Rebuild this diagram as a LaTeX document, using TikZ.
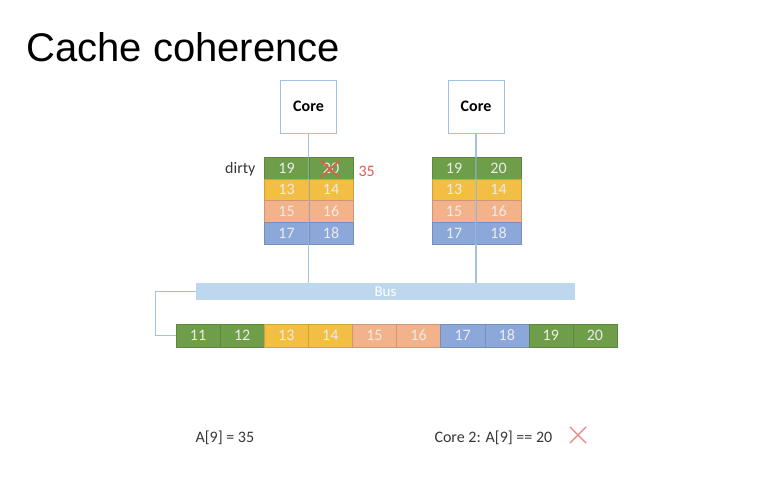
\documentclass[tikz,border=0pt]{standalone}
\usepackage{fontspec}
\setmainfont{Carlito}
\newfontfamily\titlefont{Liberation Sans}
\usetikzlibrary{shapes.misc}
\definecolor{cgreen}{RGB}{110,158,74}
\definecolor{cyellow}{RGB}{243,190,68}
\definecolor{cpeach}{RGB}{242,178,138}
\definecolor{cblue}{RGB}{140,168,218}
\definecolor{lineblue}{RGB}{157,195,230}
\definecolor{busblue}{RGB}{189,215,238}
\definecolor{xred}{RGB}{226,90,80}
\definecolor{txtgray}{RGB}{55,55,55}
\newcommand{\sz}[1]{\fontsize{#1}{#1}\selectfont}
\newcommand{\cell}[4]{\node[cell,fill=#3,draw=#3!85!black] (#1) at (#2) {#4}}

\begin{document}
\begin{tikzpicture}[x=1pt,y=-1pt,
	cell/.style={minimum width=44.5pt,minimum height=21.75pt,inner sep=0pt,
		text=white!92!black,font=\sz{16},line width=0.4pt},
	mem/.style={cell,minimum width=44.1pt,minimum height=23pt},
	corebox/.style={draw=lineblue,fill=white,line width=1pt,minimum width=56pt,
		minimum height=53pt,font=\sz{16}\bfseries},
	wire/.style={draw=lineblue,line width=1.2pt}]
	\useasboundingbox (0,0) rectangle (773,493);
	\node[anchor=base west,font=\titlefont\sz{40}] (title) at (23,61) {Cache coherence};
	% cores
	\node[corebox] (core1) at (308.5,106.5) {Core};
	\node[corebox] (core2) at (476,106.5) {Core};
	% cache of core 1
	\node[minimum width=89pt,minimum height=87pt,inner sep=0pt] (cache1) at (308.5,200.5) {};
	\cell{a19}{286.5,167.9}{cgreen}{19};
	\cell{a20}{331,167.9}{cgreen}{20};
	\cell{a13}{286.5,189.6}{cyellow}{13};
	\cell{a14}{331,189.6}{cyellow}{14};
	\cell{a15}{286.5,211.4}{cpeach}{15};
	\cell{a16}{331,211.4}{cpeach}{16};
	\cell{a17}{286.5,233.1}{cblue}{17};
	\cell{a18}{331,233.1}{cblue}{18};
	% cache of core 2
	\node[minimum width=89pt,minimum height=87pt,inner sep=0pt] (cache2) at (476,200.5) {};
	\cell{b19}{454,167.9}{cgreen}{19};
	\cell{b20}{498.5,167.9}{cgreen}{20};
	\cell{b13}{454,189.6}{cyellow}{13};
	\cell{b14}{498.5,189.6}{cyellow}{14};
	\cell{b15}{454,211.4}{cpeach}{15};
	\cell{b16}{498.5,211.4}{cpeach}{16};
	\cell{b17}{454,233.1}{cblue}{17};
	\cell{b18}{498.5,233.1}{cblue}{18};
	% bus
	\node[fill=busblue,minimum width=379pt,minimum height=17pt,inner sep=0pt,
		text=white,font=\sz{15}] (bus) at (385.5,291.5) {Bus};
	% memory
	\node[mem,fill=cgreen,draw=cgreen!85!black] (m11) at (198.05,335.5) {11};
	\node[mem,fill=cgreen,draw=cgreen!85!black] (m12) at (242.15,335.5) {12};
	\node[mem,fill=cyellow,draw=cyellow!85!black] (m13) at (286.25,335.5) {13};
	\node[mem,fill=cyellow,draw=cyellow!85!black] (m14) at (330.35,335.5) {14};
	\node[mem,fill=cpeach,draw=cpeach!85!black] (m15) at (374.45,335.5) {15};
	\node[mem,fill=cpeach,draw=cpeach!85!black] (m16) at (418.55,335.5) {16};
	\node[mem,fill=cblue,draw=cblue!85!black] (m17) at (462.65,335.5) {17};
	\node[mem,fill=cblue,draw=cblue!85!black] (m18) at (506.75,335.5) {18};
	\node[mem,fill=cgreen,draw=cgreen!85!black] (m19) at (550.85,335.5) {19};
	\node[mem,fill=cgreen,draw=cgreen!85!black] (m20) at (594.95,335.5) {20};
	% wires
	\draw[wire] (core1.south) -- (cache1.north);
	\draw[wire] (core2.south) -- (cache2.north);
	\draw[wire,draw opacity=0.5] (cache1.north) -- (cache1.south);
	\draw[wire,draw opacity=0.5] (cache2.north) -- (cache2.south);
	\draw[wire] (cache1.south) -- (cache1.south |- bus.north);
	\draw[wire] (cache2.south) -- (cache2.south |- bus.north);
	\draw[wire] (bus.west) -- ++(-40,0) |- (m11.west);
	% labels
	\node[anchor=east,text=txtgray,font=\sz{16}] (dirty) at (259,169) {dirty};
	\node[anchor=west,text=xred,font=\sz{16}] (newval) at (355,171) {35};
	\node[cross out,draw=xred,line width=1.6pt,minimum width=17pt,minimum height=15pt] (xa) at (330,169) {};
	\node[anchor=base west,text=txtgray,font=\sz{16}] (write) at (192,442) {A[9] = 35};
	\node[anchor=base west,text=txtgray,font=\sz{16}] (read) at (431,442) {Core 2: A[9] == 20};
	\node[cross out,draw=xred!75!white,line width=1.2pt,minimum size=15pt] (xb) at (578,435) {};
\end{tikzpicture}
\end{document}
